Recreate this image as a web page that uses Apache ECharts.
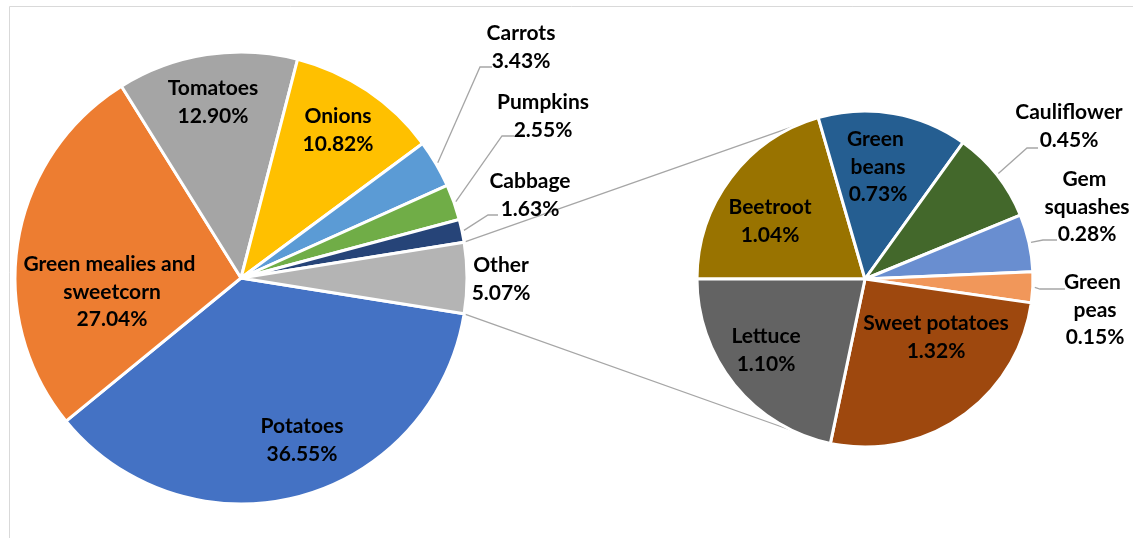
<!DOCTYPE html>
<html>
<head>
<meta charset="utf-8">
<script src="https://cdn.jsdelivr.net/npm/echarts@6/dist/echarts.min.js"></script>
<style>
  html, body { margin: 0; padding: 0; background: #fff; }
  #chart { width: 1133px; height: 538px; }
</style>
</head>
<body>
<div id="chart"></div>
<script>
// Share of vegetable production (%), main pie
const mainNames = ['Potatoes', 'Green mealies and sweetcorn', 'Tomatoes', 'Onions', 'Carrots', 'Pumpkins', 'Cabbage', 'Other'];
const mainShares = [36.55, 27.04, 12.90, 10.82, 3.43, 2.55, 1.63, 5.07];

// Breakdown of "Other" (%), secondary pie
const otherNames = ['Beetroot', 'Green beans', 'Cauliflower', 'Gem squashes', 'Green peas', 'Sweet potatoes', 'Lettuce'];
const otherShares = [1.04, 0.73, 0.45, 0.28, 0.15, 1.32, 1.10];

const mainColors = ['#4472C4', '#ED7D31', '#A5A5A5', '#FFC000', '#5B9BD5', '#70AD47', '#264478', '#B4B4B4'];
const otherColors = ['#997300', '#255E91', '#43682B', '#698ED0', '#F1975A', '#9E480E', '#636363'];

// Pie geometry (pixels)
const MAIN = { cx: 241, cy: 278, r: 226 };
const SUB = { cx: 865, cy: 279, r: 168 };
const SUB_LINK_ANGLES = [113, -115];   // where the connector lines meet the secondary pie

// Label block centres
const mainLabelPos = {
  'Potatoes': [302, 440],
  'Green mealies and sweetcorn': [112, 292],
  'Tomatoes': [213, 102],
  'Onions': [338, 130],
  'Carrots': [521, 47],
  'Pumpkins': [543, 116],
  'Cabbage': [530, 195],
  'Other': [501, 279]
};
const otherLabelPos = {
  'Beetroot': [770, 221],
  'Green beans': [878, 167],
  'Cauliflower': [1069, 126],
  'Gem squashes': [1087, 207],
  'Green peas': [1095, 310],
  'Sweet potatoes': [936, 337],
  'Lettuce': [766, 350]
};
// Wrap widths for long names
const wrapWidth = { 'Green mealies and sweetcorn': 195, 'Green beans': 74, 'Gem squashes': 100, 'Green peas': 68 };

// Leader lines: elbow point and end x for labels set outside their slice
const mainLeaders = { 'Carrots': [480, 67, 492], 'Pumpkins': [502, 136, 514], 'Cabbage': [488, 215, 498] };
const otherLeaders = { 'Cauliflower': [1027, 148, 1038], 'Gem squashes': [1043, 240, 1057], 'Green peas': [1040, 289, 1065] };

const sum = a => a.reduce((s, v) => s + v, 0);
const mainTotal = sum(mainShares);
const otherIdx = mainNames.indexOf('Other');
const otherSpan = mainShares[otherIdx] / mainTotal * 360;
const mainStart = -otherSpan / 2;   // "Other" centred on the right-hand side
const subStart = 180;

function midAngles(values, start) {
  const total = sum(values);
  let a = start;
  return values.map(v => {
    const span = v / total * 360;
    const mid = a - span / 2;
    a -= span;
    return mid;
  });
}
const polar = (g, deg, rr) => [g.cx + rr * Math.cos(deg * Math.PI / 180), g.cy - rr * Math.sin(deg * Math.PI / 180)];

const mainMid = midAngles(mainShares, mainStart);
const otherMid = midAngles(otherShares, subStart);

const lineStyle = { stroke: '#A6A6A6', lineWidth: 1.3, fill: null };
const graphics = [];

// chart frame
graphics.push({ type: 'rect', shape: { x: 9.5, y: 6.5, width: 1300, height: 700 }, style: { stroke: '#D9D9D9', lineWidth: 1, fill: null }, z: -10 });

// connector lines between the two pies
const upperStart = polar(MAIN, otherSpan / 2, MAIN.r);
const lowerStart = polar(MAIN, -otherSpan / 2, MAIN.r);
const upperEnd = polar(SUB, SUB_LINK_ANGLES[0], SUB.r);
const lowerEnd = polar(SUB, SUB_LINK_ANGLES[1], SUB.r);
graphics.push({ type: 'line', shape: { x1: upperStart[0], y1: upperStart[1], x2: upperEnd[0], y2: upperEnd[1] }, style: lineStyle, z: -1 });
graphics.push({ type: 'line', shape: { x1: lowerStart[0], y1: lowerStart[1], x2: lowerEnd[0], y2: lowerEnd[1] }, style: lineStyle, z: -1 });

// leader lines
function addLeaders(names, mids, geom, leaders) {
  names.forEach((n, i) => {
    const l = leaders[n];
    if (!l) return;
    const p0 = polar(geom, mids[i], geom.r + 2);
    graphics.push({ type: 'polyline', shape: { points: [p0, [l[0], l[1]], [l[2], l[1]]] }, style: lineStyle, z: 5 });
  });
}
addLeaders(mainNames, mainMid, MAIN, mainLeaders);
addLeaders(otherNames, otherMid, SUB, otherLeaders);

const labelBase = {
  show: true,
  position: 'inside',
  fontFamily: 'Lato, "DejaVu Sans", sans-serif',
  fontWeight: 'bold',
  fontSize: 21,
  lineHeight: 27.5,
  color: '#000',
  overflow: 'break'
};

function makeSeries(names, values, colors, geom, start, posMap) {
  return {
    type: 'pie',
    center: [geom.cx, geom.cy],
    radius: geom.r,
    startAngle: start,
    clockwise: true,
    avoidLabelOverlap: false,
    silent: true,
    animation: false,
    itemStyle: { borderColor: '#fff', borderWidth: 3 },
    label: labelBase,
    labelLine: { show: false },
    labelLayout: p => {
      const pos = posMap[names[p.dataIndex]];
      return { x: pos[0], y: pos[1], align: 'center', verticalAlign: 'middle' };
    },
    data: names.map((n, i) => ({
      name: n,
      value: values[i],
      itemStyle: { color: colors[i] },
      label: Object.assign({}, labelBase, {
        width: wrapWidth[n],
        formatter: n + '\n' + values[i].toFixed(2) + '%'
      })
    }))
  };
}

const chart = echarts.init(document.getElementById('chart'), null, { renderer: 'canvas' });
chart.setOption({
  backgroundColor: '#fff',
  animation: false,
  graphic: graphics,
  series: [
    makeSeries(mainNames, mainShares, mainColors, MAIN, mainStart, mainLabelPos),
    makeSeries(otherNames, otherShares, otherColors, SUB, subStart, otherLabelPos)
  ]
});
</script>
</body>
</html>
